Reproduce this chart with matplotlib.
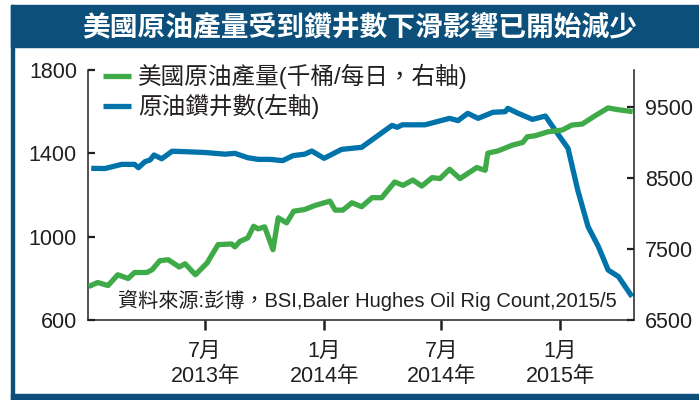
import matplotlib
matplotlib.use('Agg')
import matplotlib.pyplot as plt
from matplotlib.patches import Rectangle
import pandas as pd

# rig count (left axis)
rig_dates = ['2013-01-06', '2013-01-27', '2013-02-22', '2013-03-14', '2013-03-20', '2013-03-30',
             '2013-04-07', '2013-04-13', '2013-04-25', '2013-05-11', '2013-05-31', '2013-07-01',
             '2013-08-01', '2013-08-16', '2013-09-05', '2013-09-21', '2013-10-09', '2013-10-29',
             '2013-11-14', '2013-12-02', '2013-12-13', '2014-01-01', '2014-01-28', '2014-02-28',
             '2014-04-16', '2014-04-24', '2014-05-02', '2014-06-06', '2014-07-14', '2014-07-27',
             '2014-08-11', '2014-08-27', '2014-09-19', '2014-10-08', '2014-10-12', '2014-10-28',
             '2014-11-19', '2014-12-09', '2014-12-24', '2015-01-13', '2015-01-28', '2015-02-13',
             '2015-03-01', '2015-03-16', '2015-04-01', '2015-04-22']
rig_count = [1328, 1327, 1347, 1347, 1331, 1360,
             1368, 1392, 1374, 1410, 1408, 1404,
             1396, 1400, 1379, 1371, 1371, 1365,
             1389, 1396, 1411, 1376, 1419, 1429,
             1534, 1525, 1537, 1537, 1568, 1557,
             1592, 1568, 1597, 1600, 1616, 1592,
             1563, 1579, 1512, 1424, 1224, 1048,
             952, 840, 808, 712]

# crude output, thousand barrels per day (right axis)
prod_dates = ['2013-01-02', '2013-01-16', '2013-02-01', '2013-02-16', '2013-03-04', '2013-03-14',
              '2013-04-02', '2013-04-10', '2013-04-22', '2013-05-05', '2013-05-22', '2013-05-31',
              '2013-06-16', '2013-07-04', '2013-07-21', '2013-08-11', '2013-08-16', '2013-08-24',
              '2013-09-05', '2013-09-14', '2013-09-21', '2013-10-01', '2013-10-14', '2013-10-22',
              '2013-11-04', '2013-11-15', '2013-12-02', '2013-12-18', '2014-01-10', '2014-01-18',
              '2014-01-30', '2014-02-13', '2014-02-28', '2014-03-16', '2014-03-31', '2014-04-20',
              '2014-05-03', '2014-05-18', '2014-06-01', '2014-06-17', '2014-06-29', '2014-07-14',
              '2014-07-30', '2014-08-25', '2014-09-07', '2014-09-11', '2014-09-27', '2014-10-19',
              '2014-11-04', '2014-11-11', '2014-11-23', '2014-12-13', '2015-01-04', '2015-01-19',
              '2015-02-04', '2015-02-24', '2015-03-16', '2015-03-31', '2015-04-23']
production = [6971, 7028, 6985, 7137, 7084, 7169,
              7169, 7207, 7335, 7349, 7246, 7292,
              7137, 7302, 7561, 7571, 7529, 7608,
              7656, 7820, 7783, 7812, 7490, 7939,
              7868, 8032, 8056, 8113, 8174, 8047,
              8047, 8151, 8095, 8222, 8222, 8443,
              8396, 8471, 8386, 8505, 8491, 8622,
              8491, 8647, 8608, 8849, 8882, 8962,
              9000, 9080, 9094, 9150, 9174, 9245,
              9259, 9377, 9486, 9462, 9433]

tick_dates = ['2013-07-01', '2014-01-01', '2014-07-01', '2015-01-01']
tick_labels = ['7月\n2013年', '1月\n2014年', '7月\n2014年', '1月\n2015年']

title = '美國原油產量受到鑽井數下滑影響已開始減少'
source = '資料來源:彭博，BSI,Baler Hughes Oil Rig Count,2015/5'

plt.rcParams['font.family'] = ['Liberation Sans', 'Noto Sans CJK TC']

frame_blue = '#0b4f7a'
green = '#3fab48'
blue = '#0073aa'
ink = '#231f20'

fig = plt.figure(figsize=(6.99, 4.0), dpi=100)
W, H = 699, 400

# blue frame: title bar, left edge, bottom edge
fig.patches.append(Rectangle((11 / W, 1 - 47 / H), 1, 42 / H, transform=fig.transFigure,
                             color=frame_blue, zorder=0))
fig.patches.append(Rectangle((11 / W, 0), 3.5 / W, 1 - 5 / H, transform=fig.transFigure,
                             color=frame_blue, zorder=0))
fig.patches.append(Rectangle((11 / W, 0), 1, 6 / H, transform=fig.transFigure,
                             color=frame_blue, zorder=0))
fig.text(360 / W, 1 - 27 / H, title, color='white', fontsize=20, fontweight='bold',
         ha='center', va='center', family='Noto Sans CJK TC')

ax = fig.add_axes([88 / W, 80 / H, 546 / W, 250 / H])
ax2 = ax.twinx()

l1, = ax.plot(pd.to_datetime(rig_dates), rig_count, color=blue, lw=3.8,
              solid_capstyle='butt', label='原油鑽井數(左軸)')
l2, = ax2.plot(pd.to_datetime(prod_dates), production, color=green, lw=3.8,
               solid_capstyle='butt', label='美國原油產量(千桶/每日，右軸)')

ax.set_xlim(pd.Timestamp('2013-01-01'), pd.Timestamp('2015-04-25'))
ax.set_ylim(600, 1800)
ax2.set_ylim(6500, 10020)
ax.set_yticks([600, 1000, 1400, 1800])
ax2.set_yticks([6500, 7500, 8500, 9500])
ax.set_xticks(pd.to_datetime(tick_dates))
ax.set_xticklabels(tick_labels, linespacing=1.25)

for a in (ax, ax2):
    a.spines['top'].set_visible(False)
    for s in a.spines.values():
        s.set_linewidth(1.1)
        s.set_color(ink)
ax.spines['right'].set_visible(False)
ax2.spines['left'].set_visible(False)
ax2.spines['bottom'].set_visible(False)

ax.tick_params(axis='y', direction='in', length=5, width=1.6, labelsize=15.5,
               pad=8, colors=ink)
ax2.tick_params(axis='y', direction='in', length=5, width=1.6, labelsize=15.5,
                pad=8, colors=ink)
ax.tick_params(axis='x', direction='out', length=7, width=1.8, labelsize=15.5,
               pad=8, colors=ink)

fig.text(617 / W, 1 - 300 / H, source, fontsize=14.5, ha='right', va='center', color=ink)

leg = ax2.legend([l2, l1], [l2.get_label(), l1.get_label()], loc='upper left',
                 bbox_to_anchor=(103 / W, 1 - 64 / H), bbox_transform=fig.transFigure,
                 frameon=False, fontsize=17, handlelength=1.2, handletextpad=0.3,
                 labelspacing=0.2, borderpad=0, borderaxespad=0)
for t in leg.get_texts():
    t.set_color(ink)

fig.savefig('out.png', dpi=100)
